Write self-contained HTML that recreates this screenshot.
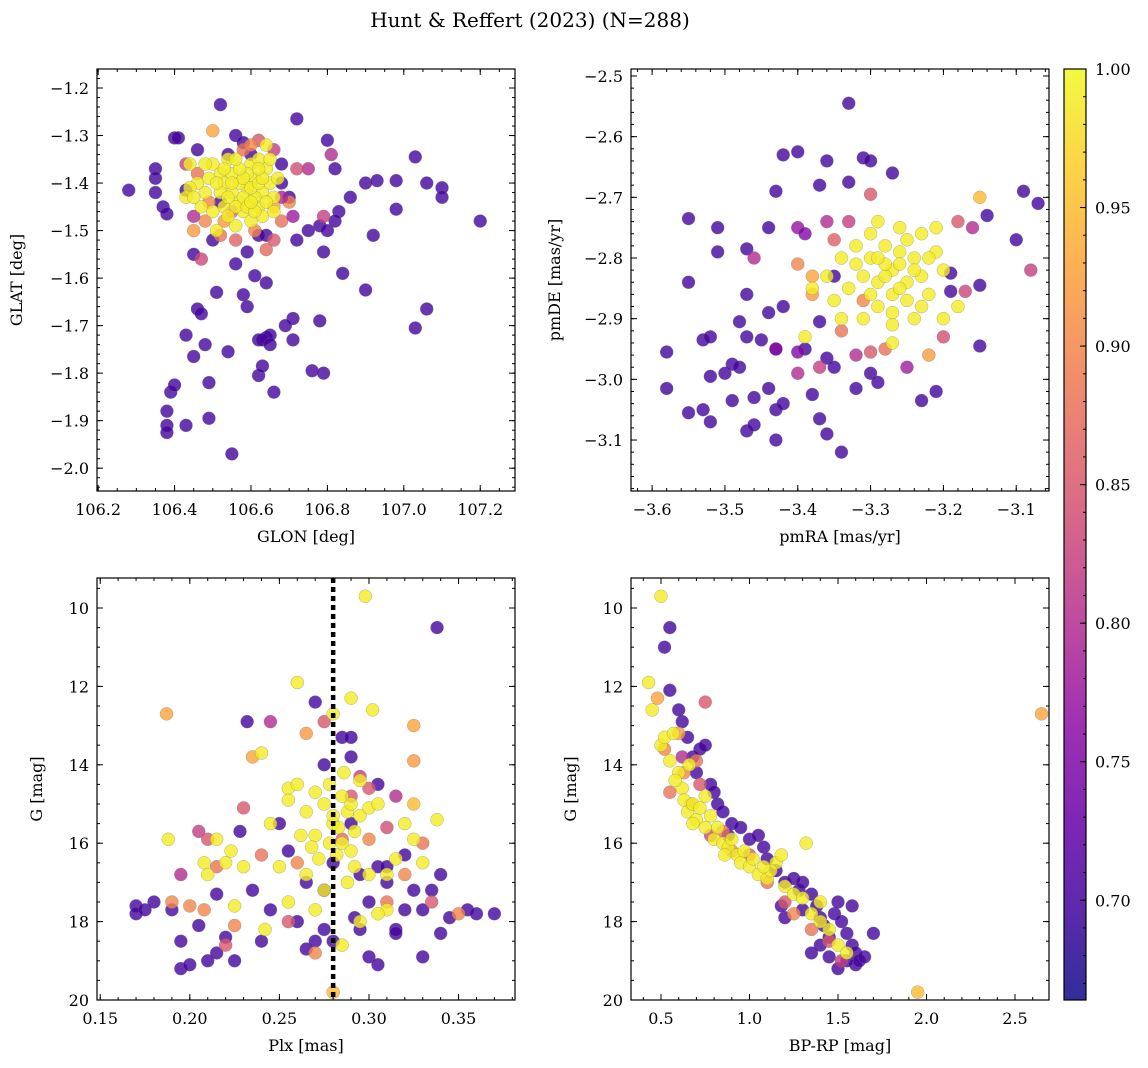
<!DOCTYPE html>
<html><head><meta charset="utf-8">
<style>
html,body{margin:0;padding:0;background:#fff;}
svg{display:block;font-family:"DejaVu Serif","Liberation Serif",serif;}
</style></head>
<body>
<svg id="fig" width="1148" height="1068" viewBox="0 0 1148 1068" xmlns="http://www.w3.org/2000/svg">
<text x="530" y="27" font-size="20" text-anchor="middle">Hunt &amp; Reffert (2023) (N=288)</text>
</svg>
<script>
// ---- data (x, y, membership probability) ----
const tlPurple=[[106.28,-1.415],[106.35,-1.37],[106.35,-1.42],[106.35,-1.39],[106.37,-1.45],[106.38,-1.465],[106.40,-1.305],[106.41,-1.305],[106.43,-1.415],[106.43,-1.72],[106.45,-1.765],[106.46,-1.665],[106.47,-1.675],[106.48,-1.74],[106.49,-1.82],[106.49,-1.895],[106.51,-1.63],[106.39,-1.84],[106.40,-1.825],[106.38,-1.88],[106.38,-1.91],[106.38,-1.925],[106.43,-1.91],[106.54,-1.755],[106.55,-1.97],[106.58,-1.635],[106.59,-1.66],[106.61,-1.595],[106.62,-1.805],[106.63,-1.785],[106.62,-1.73],[106.64,-1.725],[106.65,-1.72],[106.63,-1.73],[106.66,-1.84],[106.65,-1.74],[106.64,-1.61],[106.64,-1.51],[106.59,-1.545],[106.62,-1.51],[106.71,-1.685],[106.71,-1.73],[106.69,-1.70],[106.76,-1.795],[106.79,-1.80],[106.78,-1.69],[106.72,-1.265],[106.80,-1.31],[106.82,-1.37],[106.78,-1.49],[106.80,-1.50],[106.79,-1.545],[106.84,-1.59],[106.83,-1.46],[106.86,-1.43],[106.90,-1.40],[106.93,-1.395],[106.98,-1.395],[106.98,-1.455],[106.92,-1.51],[106.90,-1.625],[107.03,-1.345],[107.06,-1.40],[107.10,-1.41],[107.10,-1.43],[107.20,-1.48],[107.06,-1.665],[107.03,-1.705],[106.52,-1.235],[106.56,-1.30],[106.58,-1.315],[106.72,-1.52],[106.75,-1.50],[106.68,-1.36],[106.70,-1.43],[106.45,-1.55],[106.56,-1.57],[106.82,-1.48],[106.46,-1.33],[106.52,-1.44],[106.54,-1.34],[106.60,-1.34],[106.68,-1.40],[106.50,-1.52]];
const tlMid=[[106.50,-1.29,0.93],[106.45,-1.50,0.92],[106.48,-1.48,0.9],[106.52,-1.51,0.88],[106.56,-1.52,0.86],[106.64,-1.54,0.87],[106.66,-1.52,0.85],[106.70,-1.44,0.9],[106.68,-1.48,0.88],[106.62,-1.31,0.85],[106.47,-1.56,0.83],[106.43,-1.36,0.82],[106.75,-1.37,0.8],[106.81,-1.34,0.8],[106.79,-1.47,0.82],[106.71,-1.47,0.78],[106.58,-1.33,0.88],[106.66,-1.33,0.82],[106.45,-1.47,0.8],[106.55,-1.46,0.86],[106.72,-1.37,0.84],[106.68,-1.43,0.79],[106.49,-1.44,0.9],[106.53,-1.48,0.92],[106.61,-1.50,0.9],[106.46,-1.38,0.88],[106.66,-1.45,0.93],[106.60,-1.32,0.9]];
const tlYellow=[[106.50,-1.36],[106.52,-1.38],[106.53,-1.40],[106.55,-1.42],[106.57,-1.44],[106.59,-1.41],[106.61,-1.39],[106.63,-1.42],[106.65,-1.40],[106.62,-1.45],[106.58,-1.46],[106.55,-1.38],[106.60,-1.36],[106.64,-1.37],[106.66,-1.43],[106.56,-1.49],[106.60,-1.48],[106.63,-1.47],[106.48,-1.42],[106.46,-1.40],[106.44,-1.41],[106.43,-1.43],[106.50,-1.46],[106.53,-1.45],[106.57,-1.40],[106.59,-1.38],[106.62,-1.35],[106.64,-1.32],[106.44,-1.36],[106.49,-1.39],[106.52,-1.42],[106.54,-1.35],[106.58,-1.43],[106.61,-1.43],[106.67,-1.39],[106.66,-1.46],[106.51,-1.50],[106.47,-1.45],[106.54,-1.43],[106.56,-1.45],[106.58,-1.39],[106.60,-1.41],[106.62,-1.40],[106.64,-1.44],[106.57,-1.37],[106.53,-1.37],[106.55,-1.40],[106.59,-1.45],[106.61,-1.46],[106.63,-1.39],[106.65,-1.35],[106.51,-1.40],[106.48,-1.36],[106.56,-1.35],[106.60,-1.44],[106.54,-1.47],[106.62,-1.37],[106.45,-1.43]];
const trPurple=[[-3.33,-2.545],[-3.42,-2.63],[-3.40,-2.625],[-3.36,-2.64],[-3.33,-2.675],[-3.31,-2.635],[-3.30,-2.64],[-3.43,-2.69],[-3.37,-2.68],[-3.27,-2.66],[-3.09,-2.69],[-3.07,-2.71],[-3.14,-2.73],[-3.10,-2.77],[-3.55,-2.735],[-3.51,-2.75],[-3.51,-2.79],[-3.55,-2.84],[-3.47,-2.785],[-3.47,-2.86],[-3.44,-2.75],[-3.58,-2.955],[-3.58,-3.015],[-3.55,-3.055],[-3.53,-3.05],[-3.52,-3.07],[-3.53,-2.935],[-3.52,-2.93],[-3.52,-2.995],[-3.50,-2.99],[-3.49,-2.975],[-3.48,-2.98],[-3.49,-3.035],[-3.47,-3.085],[-3.46,-3.075],[-3.46,-3.03],[-3.44,-3.015],[-3.43,-3.05],[-3.43,-3.10],[-3.42,-3.04],[-3.34,-3.12],[-3.36,-3.09],[-3.37,-3.065],[-3.38,-3.025],[-3.32,-3.015],[-3.30,-2.99],[-3.29,-3.005],[-3.23,-3.035],[-3.21,-3.02],[-3.47,-2.93],[-3.45,-2.935],[-3.44,-2.89],[-3.43,-2.95],[-3.39,-2.95],[-3.37,-2.905],[-3.36,-2.965],[-3.35,-2.98],[-3.15,-2.845],[-3.15,-2.945],[-3.19,-2.825],[-3.19,-2.855],[-3.35,-2.83],[-3.42,-2.88],[-3.48,-2.905]];
const trMid=[[-3.15,-2.70,0.95],[-3.38,-2.83,0.93],[-3.40,-2.81,0.9],[-3.38,-2.86,0.92],[-3.22,-2.96,0.92],[-3.28,-2.95,0.88],[-3.30,-2.955,0.85],[-3.20,-2.93,0.84],[-3.18,-2.74,0.85],[-3.17,-2.855,0.83],[-3.16,-2.75,0.8],[-3.30,-2.695,0.85],[-3.33,-2.74,0.82],[-3.36,-2.74,0.8],[-3.35,-2.77,0.86],[-3.34,-2.92,0.88],[-3.32,-2.96,0.8],[-3.37,-2.98,0.82],[-3.40,-2.99,0.8],[-3.31,-2.87,0.9],[-3.25,-2.98,0.78],[-3.08,-2.82,0.82],[-3.40,-2.955,0.75],[-3.43,-2.95,0.76],[-3.46,-2.80,0.8],[-3.40,-2.75,0.77],[-3.39,-2.76,0.75]];
const trYellow=[[-3.30,-2.80],[-3.28,-2.78],[-3.26,-2.79],[-3.24,-2.80],[-3.27,-2.82],[-3.25,-2.84],[-3.23,-2.83],[-3.29,-2.84],[-3.31,-2.83],[-3.27,-2.86],[-3.29,-2.88],[-3.25,-2.87],[-3.22,-2.86],[-3.20,-2.82],[-3.21,-2.79],[-3.23,-2.76],[-3.26,-2.75],[-3.29,-2.74],[-3.32,-2.78],[-3.34,-2.80],[-3.33,-2.85],[-3.31,-2.90],[-3.27,-2.91],[-3.24,-2.90],[-3.27,-2.94],[-3.36,-2.83],[-3.38,-2.85],[-3.39,-2.93],[-3.34,-2.90],[-3.21,-2.75],[-3.18,-2.88],[-3.26,-2.81],[-3.28,-2.83],[-3.35,-2.87],[-3.20,-2.90],[-3.30,-2.76],[-3.28,-2.81],[-3.26,-2.85],[-3.24,-2.82],[-3.30,-2.86],[-3.32,-2.81],[-3.25,-2.77],[-3.22,-2.80],[-3.29,-2.80],[-3.27,-2.89],[-3.23,-2.88]];
const blPurple=[[0.17,17.6],[0.17,17.8],[0.175,17.7],[0.18,17.5],[0.19,17.7],[0.195,18.5],[0.195,19.2],[0.20,19.1],[0.205,18.1],[0.21,19.0],[0.215,18.8],[0.215,17.3],[0.22,18.4],[0.225,19.0],[0.228,15.7],[0.232,12.9],[0.235,17.2],[0.24,18.5],[0.245,17.7],[0.25,15.5],[0.255,16.2],[0.26,18.0],[0.265,17.0],[0.265,18.7],[0.27,18.5],[0.275,17.2],[0.275,18.2],[0.28,18.5],[0.28,16.5],[0.285,13.3],[0.29,13.3],[0.29,13.8],[0.292,17.9],[0.295,18.2],[0.30,17.5],[0.30,18.9],[0.305,19.1],[0.305,16.6],[0.31,16.6],[0.31,17.0],[0.315,18.2],[0.315,18.3],[0.32,16.3],[0.32,17.7],[0.325,17.2],[0.33,17.7],[0.33,18.9],[0.335,17.2],[0.34,18.3],[0.34,16.8],[0.345,17.9],[0.355,17.7],[0.36,17.8],[0.37,17.8],[0.338,10.5],[0.305,14.5],[0.29,15.5],[0.275,14.0],[0.27,12.4],[0.295,16.8]];
const blMid=[[0.187,12.7,0.93],[0.19,17.5,0.9],[0.195,16.8,0.8],[0.20,17.6,0.9],[0.205,15.7,0.82],[0.208,17.7,0.9],[0.21,15.9,0.85],[0.215,16.6,0.88],[0.22,18.6,0.85],[0.225,18.1,0.9],[0.23,15.1,0.85],[0.235,13.8,0.93],[0.24,16.3,0.88],[0.245,12.9,0.8],[0.255,18.0,0.85],[0.26,16.5,0.9],[0.265,13.2,0.92],[0.27,18.8,0.9],[0.275,12.9,0.85],[0.28,19.8,0.95],[0.285,15.9,0.87],[0.29,14.8,0.85],[0.295,14.3,0.82],[0.30,15.9,0.9],[0.31,17.5,0.88],[0.32,16.8,0.9],[0.325,13.0,0.93],[0.325,13.9,0.92],[0.325,15.0,0.95],[0.33,16.0,0.88],[0.335,17.5,0.85],[0.35,17.8,0.9],[0.315,14.8,0.8],[0.30,14.6,0.85],[0.31,15.6,0.84]];
const blYellow=[[0.188,15.9],[0.208,16.5],[0.21,16.8],[0.215,15.9],[0.22,16.5],[0.223,16.2],[0.225,17.6],[0.23,16.6],[0.24,13.7],[0.242,18.2],[0.245,15.5],[0.25,16.6],[0.255,14.9],[0.255,14.6],[0.26,11.9],[0.26,14.5],[0.262,15.8],[0.265,16.8],[0.265,15.2],[0.27,14.7],[0.27,15.8],[0.272,16.4],[0.275,17.2],[0.275,15.0],[0.278,14.5],[0.28,15.5],[0.28,12.7],[0.28,15.3],[0.282,16.3],[0.285,14.8],[0.285,16.0],[0.288,15.2],[0.288,17.0],[0.29,15.0],[0.29,16.2],[0.29,12.3],[0.292,15.7],[0.295,15.3],[0.295,18.0],[0.298,9.7],[0.30,15.1],[0.30,16.8],[0.302,12.6],[0.305,15.0],[0.31,16.8],[0.31,17.7],[0.315,16.4],[0.32,15.5],[0.325,15.9],[0.33,16.5],[0.338,15.4],[0.285,18.6],[0.27,17.7],[0.255,17.5],[0.295,14.4],[0.305,17.8],[0.283,15.6],[0.278,16.0],[0.292,16.6],[0.268,16.1],[0.286,14.2]];
const brPurple=[[0.52,11.0],[0.55,10.5],[0.55,12.1],[0.60,12.6],[0.62,12.9],[0.65,13.3],[0.68,13.8],[0.70,14.2],[0.72,13.6],[0.75,13.5],[0.78,14.5],[0.80,14.7],[0.82,15.0],[0.85,15.2],[0.90,15.5],[0.95,15.6],[1.00,15.9],[1.05,15.8],[1.08,16.1],[1.10,16.4],[1.15,16.7],[1.20,17.0],[1.25,16.9],[1.28,17.2],[1.30,17.0],[1.35,17.3],[1.38,17.6],[1.40,17.9],[1.42,18.1],[1.45,18.4],[1.48,17.8],[1.50,19.2],[1.52,18.0],[1.55,18.3],[1.58,18.6],[1.60,18.8],[1.60,19.1],[1.62,19.0],[1.65,18.9],[1.70,18.3],[1.20,17.9],[1.30,17.7],[1.40,18.6],[1.45,18.9],[1.55,19.0],[1.35,18.8],[1.58,17.6],[1.50,17.5],[0.88,15.8],[1.18,17.6]];
const brMid=[[0.48,12.3,0.93],[0.52,13.6,0.9],[0.55,14.7,0.88],[0.60,13.2,0.92],[0.63,14.2,0.9],[0.67,15.0,0.93],[0.70,13.9,0.88],[0.75,12.4,0.85],[0.72,14.5,0.85],[0.85,15.7,0.88],[0.90,16.2,0.9],[1.00,16.3,0.85],[1.10,17.0,0.88],[1.20,17.5,0.85],[1.25,17.8,0.9],[1.35,18.2,0.88],[1.45,18.5,0.85],[1.95,19.8,0.95],[2.65,12.7,0.93],[0.78,15.8,0.83],[0.62,13.8,0.8],[1.52,19.0,0.82]];
const brYellow=[[0.43,11.9],[0.45,12.6],[0.50,9.7],[0.50,13.5],[0.52,13.3],[0.55,13.9],[0.57,13.2],[0.60,14.2],[0.62,14.6],[0.63,14.9],[0.65,15.2],[0.68,15.0],[0.70,15.4],[0.72,15.1],[0.75,15.6],[0.78,15.3],[0.80,15.9],[0.82,15.6],[0.85,16.0],[0.88,16.1],[0.90,15.9],[0.93,16.3],[0.95,16.5],[1.00,16.6],[1.02,16.4],[1.05,16.8],[1.10,16.9],[1.15,16.5],[1.18,16.3],[1.20,17.1],[1.25,17.3],[1.30,17.4],[1.32,16.0],[1.35,17.8],[1.40,17.5],[1.45,18.2],[1.50,18.6],[1.55,18.8],[0.66,14.0],[0.75,14.8],[1.12,16.7],[1.40,18.0],[0.58,14.4],[0.68,15.5],[0.86,16.3],[0.97,16.2],[1.08,16.6]];
const purpleProb=0.70, yellowProb=0.99;
const plxCut=0.28;
const cbTicks=[0.70,0.75,0.80,0.85,0.90,0.95,1.00];
const cbMin=0.664, cbMax=1.0;

const NS="http://www.w3.org/2000/svg";
const svg=document.getElementById('fig');
function mk(tag,attrs,parent){const e=document.createElementNS(NS,tag);for(const k in attrs)e.setAttribute(k,attrs[k]);(parent||svg).appendChild(e);return e;}
const stops=[[0,'#0d0887'],[0.1,'#41049d'],[0.2,'#6a00a8'],[0.3,'#8f0da4'],[0.4,'#b12a90'],[0.5,'#cc4778'],[0.6,'#e16462'],[0.7,'#f2844b'],[0.8,'#fca636'],[0.9,'#fcce25'],[1,'#f0f921']];
function hx(h){return [1,3,5].map(i=>parseInt(h.substr(i,2),16));}
function cmap(p){let t=Math.max(0,Math.min(1,(p-cbMin)/(cbMax-cbMin)));for(let i=1;i<stops.length;i++){if(t<=stops[i][0]){const a=stops[i-1],b=stops[i];const f=(t-a[0])/(b[0]-a[0]);const A=hx(a[1]),B=hx(b[1]);return 'rgb('+A.map((v,j)=>Math.round(v+(B[j]-v)*f)).join(',')+')';}}return stops[10][1];}

function panel(cfg){
  const {name,L,T,R,B,xmin,xmax,ymin,ymax,xMaj,xMin,yMaj,yMin,xFmt,yFmt,xlabel,ylabel}=cfg;
  const g=mk('g',{});
  
  
  const sx=v=>L+(v-xmin)/(xmax-xmin)*(R-L);
  const sy=v=>T+(ymax-v)/(ymax-ymin)*(B-T);
  const clipId=name+'-clip';
  const cp=mk('clipPath',{id:clipId},g);mk('rect',{x:L,y:T,width:R-L,height:B-T},cp);
  const pts=mk('g',{'clip-path':'url(#'+clipId+')'},g);
  
  
  const all=[];
  cfg.purple.forEach(d=>all.push([d[0],d[1],purpleProb]));
  cfg.mid.forEach(d=>all.push(d));
  cfg.yellow.forEach(d=>all.push([d[0],d[1],yellowProb]));
  all.forEach(d=>{
    const c=mk('circle',{cx:sx(d[0]),cy:sy(d[1]),r:6.5,fill:cmap(d[2]),'fill-opacity':0.8,stroke:'#777','stroke-width':0.4,'stroke-opacity':0.7},pts);
    
    
  });
  if(cfg.extra)cfg.extra(g,sx,sy);
  mk('rect',{x:L,y:T,width:R-L,height:B-T,fill:'none',stroke:'#000','stroke-width':1.2},g);
  const tk=mk('g',{stroke:'#000','stroke-width':1},g);
  const eps=1e-9;
  function range(a,b,s){const o=[];const st=Math.ceil((a-eps)/s);for(let i=st;i*s<=b+eps;i++)o.push(+(i*s).toFixed(6));return o;}
  range(xmin,xmax,xMin).forEach(v=>{const x=sx(v);mk('line',{x1:x,x2:x,y1:B,y2:B-3},tk);mk('line',{x1:x,x2:x,y1:T,y2:T+3},tk);});
  range(ymin,ymax,yMin).forEach(v=>{const y=sy(v);mk('line',{x1:L,x2:L+3,y1:y,y2:y},tk);mk('line',{x1:R,x2:R-3,y1:y,y2:y},tk);});
  range(xmin,xmax,xMaj).forEach(v=>{const x=sx(v);mk('line',{x1:x,x2:x,y1:B,y2:B-6},tk);mk('line',{x1:x,x2:x,y1:T,y2:T+6},tk);
    const t=mk('text',{x:x,y:B+24,'font-size':16,'text-anchor':'middle'},g);t.textContent=xFmt(v);
    });
  range(ymin,ymax,yMaj).forEach(v=>{const y=sy(v);mk('line',{x1:L,x2:L+6,y1:y,y2:y},tk);mk('line',{x1:R,x2:R-6,y1:y,y2:y},tk);
    const t=mk('text',{x:L-8,y:y+6,'font-size':16,'text-anchor':'end'},g);t.textContent=yFmt(v);
    });
  const xl=mk('text',{x:(L+R)/2,y:B+51,'font-size':16,'text-anchor':'middle'},g);xl.textContent=xlabel;
  
  const yx=cfg.ylx, yy=(T+B)/2;
  const yl=mk('text',{x:yx,y:yy,'font-size':16,'text-anchor':'middle',transform:'rotate(-90 '+yx+' '+yy+')'},g);yl.textContent=ylabel;
  
}
const neg=v=>v.toFixed(1).replace('-','\u2212');
panel({name:'glon-glat-panel',L:97,T:69,R:515,B:491,xmin:106.197,xmax:107.291,ymin:-2.048,ymax:-1.16,xMaj:0.2,xMin:0.05,yMaj:0.1,yMin:0.02,xFmt:v=>v.toFixed(1),yFmt:neg,xlabel:'GLON [deg]',ylabel:'GLAT [deg]',ylx:22,purple:tlPurple,mid:tlMid,yellow:tlYellow});
panel({name:'proper-motion-panel',L:631,T:69,R:1049,B:491,xmin:-3.629,xmax:-3.055,ymin:-3.184,ymax:-2.4885,xMaj:0.1,xMin:0.02,yMaj:0.1,yMin:0.02,xFmt:neg,yFmt:neg,xlabel:'pmRA [mas/yr]',ylabel:'pmDE [mas/yr]',ylx:560,purple:trPurple,mid:trMid,yellow:trYellow});
panel({name:'parallax-mag-panel',L:97,T:578,R:515,B:1000,xmin:0.1482,xmax:0.3815,ymin:-20,ymax:-9.235,xMaj:0.05,xMin:0.01,yMaj:2,yMin:0.5,xFmt:v=>v.toFixed(2),yFmt:v=>String(Math.round(-v)),xlabel:'Plx [mas]',ylabel:'G [mag]',ylx:42,
  purple:blPurple.map(d=>[d[0],-d[1]]),mid:blMid.map(d=>[d[0],-d[1],d[2]]),yellow:blYellow.map(d=>[d[0],-d[1]]),
  extra:(g,sx,sy)=>{const l=mk('line',{x1:sx(plxCut),x2:sx(plxCut),y1:578,y2:1000,stroke:'#000','stroke-width':4.5,'stroke-dasharray':'5 4'},g);}});
panel({name:'cmd-panel',L:631,T:578,R:1049,B:1000,xmin:0.3305,xmax:2.692,ymin:-20,ymax:-9.235,xMaj:0.5,xMin:0.1,yMaj:2,yMin:0.5,xFmt:v=>v.toFixed(1),yFmt:v=>String(Math.round(-v)),xlabel:'BP-RP [mag]',ylabel:'G [mag]',ylx:576,
  purple:brPurple.map(d=>[d[0],-d[1]]),mid:brMid.map(d=>[d[0],-d[1],d[2]]),yellow:brYellow.map(d=>[d[0],-d[1]])});

// colorbar
const cb=mk('g',{});


const defs=mk('defs',{},cb);
const lg=mk('linearGradient',{id:'plasma',x1:0,y1:1,x2:0,y2:0},defs);
stops.forEach(s=>mk('stop',{offset:s[0],'stop-color':s[1],'stop-opacity':0.85},lg));
const cT=69,cB=1000,cL=1064,cR=1086;
mk('rect',{x:cL,y:cT,width:cR-cL,height:cB-cT,fill:'url(#plasma)',stroke:'#000','stroke-width':1.2},cb);
const cy=v=>cB-(v-cbMin)/(cbMax-cbMin)*(cB-cT);
for(let i=67;i<=100;i++){const v=i/100;const y=cy(v);mk('line',{x1:cR,x2:cR-3,y1:y,y2:y,stroke:'#000'},cb);}
cbTicks.forEach(v=>{const y=cy(v);mk('line',{x1:cR,x2:cR-6,y1:y,y2:y,stroke:'#000'},cb);
  const t=mk('text',{x:cR+9,y:y+6,'font-size':16},cb);t.textContent=v.toFixed(2);
  });
</script>
</body></html>
